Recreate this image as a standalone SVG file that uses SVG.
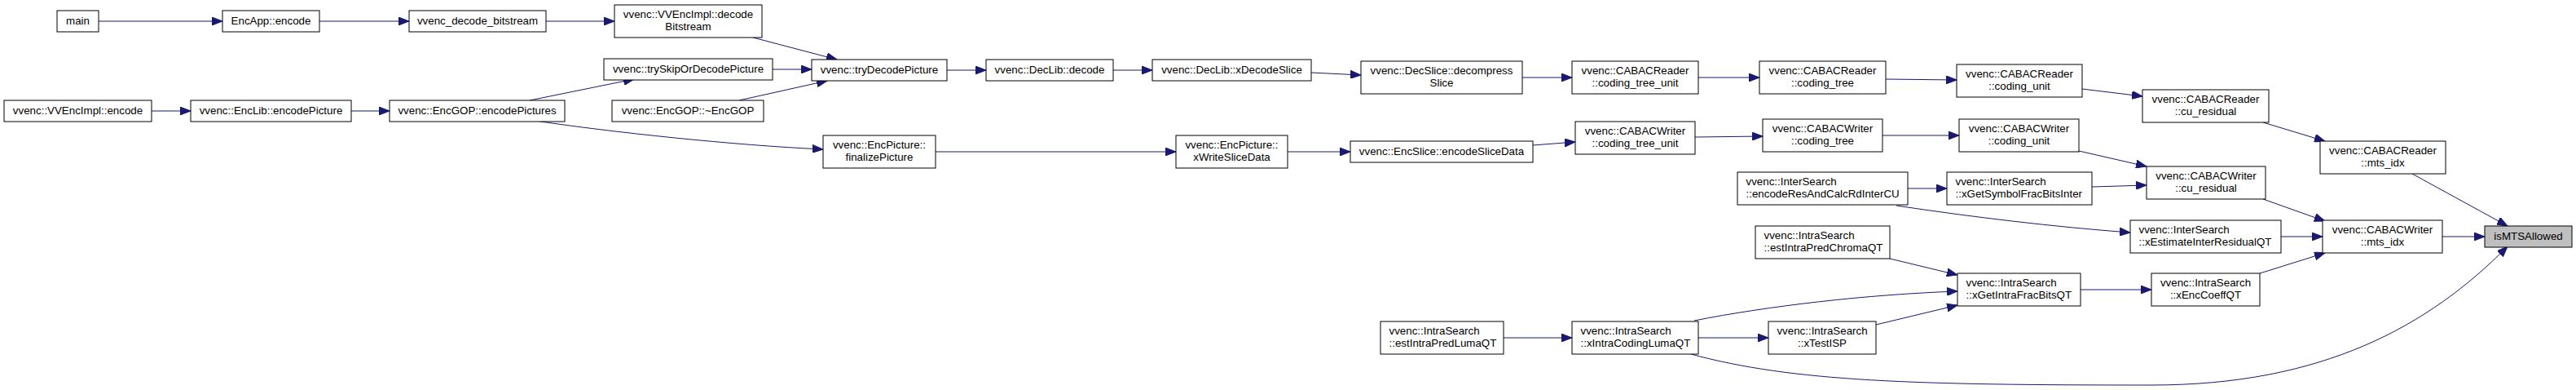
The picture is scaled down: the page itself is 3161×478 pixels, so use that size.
<svg xmlns="http://www.w3.org/2000/svg" width="3161" height="478" viewBox="0 0 3161 478">
<style>
.n rect{fill:#ffffff;stroke:#000000;stroke-width:1}
.n rect.hl{fill:#bfbfbf}
.n text{font-family:"Liberation Sans",Arial,sans-serif;font-size:13.33px;fill:#000000}
.c{text-anchor:middle}
.l{text-anchor:start}
#edges path{fill:none;stroke:#191970;stroke-width:1;marker-end:url(#arr)}
</style>
<defs>
<marker id="arr" markerWidth="14" markerHeight="10" refX="13" refY="5" orient="auto" markerUnits="userSpaceOnUse">
<path d="M0,0 L13,5 L0,10 z" fill="#191970" stroke="#191970" stroke-width="1"/>
</marker>
</defs>
<rect x="0" y="0" width="3161" height="478" fill="#ffffff"/>
<g id="edges">
<path d="M121,26 L273,26"/>
<path d="M392,26 L502,26"/>
<path d="M670,26 L754,26"/>
<path d="M924,46 L1027,73"/>
<path d="M948,85 L996,85"/>
<path d="M907,123 L1015,99"/>
<path d="M650,123 L778,97"/>
<path d="M657,148 C750,162 900,178 1010,183"/>
<path d="M186,136 L234,136"/>
<path d="M431,136 L478,136"/>
<path d="M1162,86 L1210,86"/>
<path d="M1366,86 L1414,86"/>
<path d="M1609,89 L1670,92"/>
<path d="M1868,95 L1929,95"/>
<path d="M2084,95 L2159,95"/>
<path d="M2314,97 L2401,98"/>
<path d="M2555,109 L2629,118"/>
<path d="M2777,150 L2853,173"/>
<path d="M2960,213 L3077,277"/>
<path d="M1148,186 L1443,186"/>
<path d="M1580,186 L1657,186"/>
<path d="M1881,178 L1933,174"/>
<path d="M2080,168 L2163,167"/>
<path d="M2310,166 L2404,166"/>
<path d="M2551,185 L2634,204"/>
<path d="M2341,231 L2389,231"/>
<path d="M2567,229 L2634,227"/>
<path d="M2327,252 C2420,266 2520,278 2614,285"/>
<path d="M2777,244 L2853,271"/>
<path d="M2799,290 L2850,290"/>
<path d="M2773,335 L2853,310"/>
<path d="M2997,290 L3049,290"/>
<path d="M2075,434 C2200,468 2350,472 2640,472 C2850,472 2980,400 3077,302"/>
<path d="M2079,393 C2170,375 2290,361 2402,357"/>
<path d="M2084,414 L2170,414"/>
<path d="M2302,398 L2402,374"/>
<path d="M2319,317 L2402,337"/>
<path d="M2553,355 L2640,355"/>
<path d="M1845,414 L1929,414"/>
</g>
<g id="n_main" class="n"><rect x="70" y="13" width="51" height="26"/><text class="c" x="95.5" y="29.5">main</text></g>
<g id="n_encapp" class="n"><rect x="273" y="13" width="119" height="26"/><text class="c" x="332.5" y="29.5">EncApp::encode</text></g>
<g id="n_decbit" class="n"><rect x="502" y="13" width="168" height="26"/><text class="c" x="586" y="29.5">vvenc_decode_bitstream</text></g>
<g id="n_decodeBitstream" class="n"><rect x="754" y="6" width="181" height="40"/><text class="c" x="844.5" y="22.3">vvenc::VVEncImpl::decode</text><text class="c" x="844.5" y="37">Bitstream</text></g>
<g id="n_trySkip" class="n"><rect x="741" y="72" width="207" height="26"/><text class="c" x="844.5" y="88.5">vvenc::trySkipOrDecodePicture</text></g>
<g id="n_dtorGOP" class="n"><rect x="751" y="123" width="186" height="26"/><text class="c" x="844" y="139.5">vvenc::EncGOP::~EncGOP</text></g>
<g id="n_vvencEncode" class="n"><rect x="5" y="123" width="181" height="26"/><text class="c" x="95.5" y="139.5">vvenc::VVEncImpl::encode</text></g>
<g id="n_encodePicture" class="n"><rect x="234" y="123" width="197" height="26"/><text class="c" x="332.5" y="139.5">vvenc::EncLib::encodePicture</text></g>
<g id="n_encodePictures" class="n"><rect x="478" y="123" width="215" height="26"/><text class="c" x="585.5" y="139.5">vvenc::EncGOP::encodePictures</text></g>
<g id="n_tryDecode" class="n"><rect x="996" y="73" width="166" height="26"/><text class="c" x="1079" y="89.5">vvenc::tryDecodePicture</text></g>
<g id="n_finalize" class="n"><rect x="1010" y="166" width="138" height="40"/><text class="c" x="1079" y="182.3">vvenc::EncPicture::</text><text class="c" x="1079" y="197">finalizePicture</text></g>
<g id="n_decode" class="n"><rect x="1210" y="73" width="156" height="26"/><text class="c" x="1288" y="89.5">vvenc::DecLib::decode</text></g>
<g id="n_xDecodeSlice" class="n"><rect x="1414" y="73" width="195" height="26"/><text class="c" x="1511.5" y="89.5">vvenc::DecLib::xDecodeSlice</text></g>
<g id="n_xWriteSliceData" class="n"><rect x="1443" y="166" width="137" height="40"/><text class="c" x="1511.5" y="182.3">vvenc::EncPicture::</text><text class="c" x="1511.5" y="197">xWriteSliceData</text></g>
<g id="n_decompressSlice" class="n"><rect x="1670" y="75" width="198" height="40"/><text class="c" x="1769" y="91.3">vvenc::DecSlice::decompress</text><text class="c" x="1769" y="106">Slice</text></g>
<g id="n_rCTU" class="n"><rect x="1929" y="75" width="155" height="40"/><text class="c" x="2006.5" y="91.3">vvenc::CABACReader</text><text class="c" x="2006.5" y="106">::coding_tree_unit</text></g>
<g id="n_encodeSliceData" class="n"><rect x="1657" y="173" width="224" height="26"/><text class="c" x="1769" y="189.5">vvenc::EncSlice::encodeSliceData</text></g>
<g id="n_wCTU" class="n"><rect x="1933" y="149" width="147" height="40"/><text class="c" x="2006.5" y="165.3">vvenc::CABACWriter</text><text class="c" x="2006.5" y="180">::coding_tree_unit</text></g>
<g id="n_rCT" class="n"><rect x="2159" y="75" width="155" height="40"/><text class="c" x="2236.5" y="91.3">vvenc::CABACReader</text><text class="c" x="2236.5" y="106">::coding_tree</text></g>
<g id="n_rCU" class="n"><rect x="2401" y="79" width="154" height="40"/><text class="c" x="2478" y="95.3">vvenc::CABACReader</text><text class="c" x="2478" y="110">::coding_unit</text></g>
<g id="n_rRes" class="n"><rect x="2629" y="110" width="155" height="40"/><text class="c" x="2706.5" y="126.3">vvenc::CABACReader</text><text class="c" x="2706.5" y="141">::cu_residual</text></g>
<g id="n_wCT" class="n"><rect x="2163" y="146" width="147" height="40"/><text class="c" x="2236.5" y="162.3">vvenc::CABACWriter</text><text class="c" x="2236.5" y="177">::coding_tree</text></g>
<g id="n_wCU" class="n"><rect x="2404" y="146" width="147" height="40"/><text class="c" x="2477.5" y="162.3">vvenc::CABACWriter</text><text class="c" x="2477.5" y="177">::coding_unit</text></g>
<g id="n_wRes" class="n"><rect x="2634" y="204" width="146" height="40"/><text class="c" x="2707" y="220.3">vvenc::CABACWriter</text><text class="c" x="2707" y="235">::cu_residual</text></g>
<g id="n_encodeResAndCalc" class="n"><rect x="2132" y="211" width="209" height="40"/><text class="l" x="2142.5" y="227.3">vvenc::InterSearch</text><text class="l" x="2142.5" y="242">::encodeResAndCalcRdInterCU</text></g>
<g id="n_xGetSymbol" class="n"><rect x="2389" y="211" width="178" height="40"/><text class="l" x="2399.5" y="227.3">vvenc::InterSearch</text><text class="l" x="2399.5" y="242">::xGetSymbolFracBitsInter</text></g>
<g id="n_xEstimateInter" class="n"><rect x="2614" y="270" width="185" height="40"/><text class="l" x="2624.5" y="286.3">vvenc::InterSearch</text><text class="l" x="2624.5" y="301">::xEstimateInterResidualQT</text></g>
<g id="n_estChroma" class="n"><rect x="2154" y="277" width="165" height="40"/><text class="l" x="2164.5" y="293.3">vvenc::IntraSearch</text><text class="l" x="2164.5" y="308">::estIntraPredChromaQT</text></g>
<g id="n_xGetIntraFrac" class="n"><rect x="2402" y="335" width="151" height="40"/><text class="l" x="2412.5" y="351.3">vvenc::IntraSearch</text><text class="l" x="2412.5" y="366">::xGetIntraFracBitsQT</text></g>
<g id="n_xTestISP" class="n"><rect x="2170" y="394" width="132" height="40"/><text class="c" x="2236" y="410.3">vvenc::IntraSearch</text><text class="c" x="2236" y="425">::xTestISP</text></g>
<g id="n_xEncCoeff" class="n"><rect x="2640" y="335" width="133" height="40"/><text class="c" x="2706.5" y="351.3">vvenc::IntraSearch</text><text class="c" x="2706.5" y="366">::xEncCoeffQT</text></g>
<g id="n_wMts" class="n"><rect x="2850" y="270" width="147" height="40"/><text class="c" x="2923.5" y="286.3">vvenc::CABACWriter</text><text class="c" x="2923.5" y="301">::mts_idx</text></g>
<g id="n_isMTSAllowed" class="n"><rect class="hl" x="3049" y="277" width="107" height="26"/><text class="c" x="3102.5" y="293.5">isMTSAllowed</text></g>
<g id="n_rMts" class="n"><rect x="2847" y="173" width="154" height="40"/><text class="c" x="2924" y="189.3">vvenc::CABACReader</text><text class="c" x="2924" y="204">::mts_idx</text></g>
<g id="n_estLuma" class="n"><rect x="1694" y="394" width="151" height="40"/><text class="l" x="1704.5" y="410.3">vvenc::IntraSearch</text><text class="l" x="1704.5" y="425">::estIntraPredLumaQT</text></g>
<g id="n_xIntraLuma" class="n"><rect x="1929" y="394" width="155" height="40"/><text class="l" x="1939.5" y="410.3">vvenc::IntraSearch</text><text class="l" x="1939.5" y="425">::xIntraCodingLumaQT</text></g>
</svg>
